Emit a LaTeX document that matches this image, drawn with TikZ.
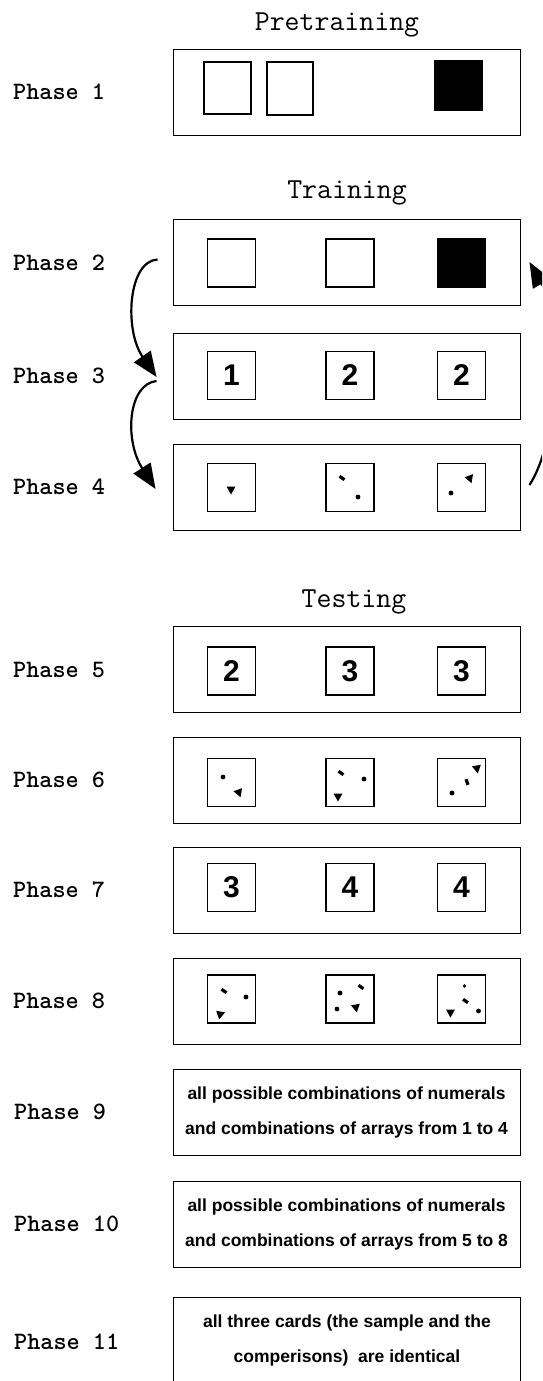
\documentclass[tikz,border=0pt]{standalone}
\usepackage{fontspec}
\newfontfamily\sansf{Liberation Sans}
\usetikzlibrary{arrows.meta,calc}
\tikzset{
 panel/.style={draw, line width=0.9pt, minimum width=347pt, minimum height=86pt, inner sep=0pt},
 card/.style={draw, line width=1.1pt, minimum width=48pt, minimum height=48pt, inner sep=0pt, font=\sansf\bfseries\fontsize{30}{30}\selectfont},
 blackcard/.style={card, fill=black},
 phaselabel/.style={anchor=west, inner sep=0pt, font=\ttfamily\bfseries\fontsize{25}{25}\selectfont},
 title/.style={inner sep=0pt, font=\ttfamily\fontsize{29}{29}\selectfont},
 flow/.style={line width=2.2pt, -{Triangle[length=25pt,width=20pt]}},
 desc/.style={panel, align=center, font=\sansf\bfseries\fontsize{17.5}{35}\selectfont},
 desctext/.style={align=center, inner sep=0pt, font=\sansf\bfseries\fontsize{17.5}{35}\selectfont},
}
\newcommand\mdot[2]{\fill (#1,#2) circle[radius=2.4pt];}
\newcommand\mtri[3]{\fill[shift={(#1,#2)}, rotate=#3] (-4.5,-3.5) -- (4.5,-3.5) -- (0,4.5) -- cycle;}
\newcommand\mdash[3]{\draw[line width=3.2pt, shift={(#1,#2)}, rotate=#3] (-3,0) -- (3,0);}
\begin{document}
\begin{tikzpicture}[x=1pt,y=-1pt]
\useasboundingbox (0,0) rectangle (542,1381);
\clip (0,0) rectangle (542,1381);
% titles
\node[title] (tpre) at (337,25) {Pretraining};
\node[title] (ttra) at (347,193) {Training};
\node[title] (ttes) at (354,602) {Testing};
% phase labels
\node[phaselabel] (l1) at (13,92) {Phase 1};
\node[phaselabel] (l2) at (13,263) {Phase 2};
\node[phaselabel] (l3) at (13,376) {Phase 3};
\node[phaselabel] (l4) at (13,487) {Phase 4};
\node[phaselabel] (l5) at (13,670) {Phase 5};
\node[phaselabel] (l6) at (13,780) {Phase 6};
\node[phaselabel] (l7) at (13,890) {Phase 7};
\node[phaselabel] (l8) at (13,1001) {Phase 8};
\node[phaselabel] (l9) at (14,1112) {Phase 9};
\node[phaselabel] (l10) at (14,1224) {Phase 10};
\node[phaselabel] (l11) at (14,1342) {Phase 11};
% panels
\node[panel] (p1) at (346.5,92) {};
\node[panel] (p2) at (346.5,262.5) {};
\node[panel] (p3) at (346.5,376) {};
\node[panel] (p4) at (346.5,487) {};
\node[panel] (p5) at (346.5,669.5) {};
\node[panel] (p6) at (346.5,780) {};
\node[panel] (p7) at (346.5,890.5) {};
\node[panel] (p8) at (346.5,1001) {};
% phase 1
\node[card, minimum width=47pt, minimum height=52pt] (c11) at (227.5,88) {};
\node[card, minimum width=46pt, minimum height=53pt] (c12) at (290,88.5) {};
\node[blackcard, minimum height=49pt] (c13) at (458.5,85.5) {};
% phase 2
\node[card] (c21) at (231.5,263) {};
\node[card] (c22) at (350,263) {};
\node[blackcard] (c23) at (461.5,263) {};
% phase 3
\node[card] (c31) at (231.5,375.5) {1};
\node[card] (c32) at (350,375.5) {2};
\node[card] (c33) at (461.5,375.5) {2};
% phase 4
\node[card] (c41) at (231.5,487.5) {};
\node[card] (c42) at (350,487.5) {};
\node[card] (c43) at (461.5,487.5) {};
\mtri{231}{490}{0}
\mdash{342}{478}{-35}
\mdot{358}{497}
\mdot{451}{493}
\mtri{470}{479}{20}
% phase 5
\node[card] (c51) at (231.5,671) {2};
\node[card] (c52) at (350,671) {3};
\node[card] (c53) at (461.5,671) {3};
% phase 6
\node[card] (c61) at (231.5,782.5) {};
\node[card] (c62) at (350,782.5) {};
\node[card] (c63) at (461.5,782.5) {};
\mdot{223}{777}
\mtri{239}{793}{20}
\mdash{341}{773}{-35}
\mdot{364}{779}
\mtri{338}{797}{0}
\mtri{477}{769}{10}
\mdash{467}{782}{-70}
\mdot{452}{793}
% phase 7
\node[card] (c71) at (231.5,887.5) {3};
\node[card] (c72) at (350,887.5) {4};
\node[card] (c73) at (461.5,887.5) {4};
% phase 8
\node[card] (c81) at (231.5,999) {};
\node[card] (c82) at (350,999) {};
\node[card] (c83) at (461.5,999) {};
\mdash{224}{991}{-35}
\mdot{246}{997}
\mtri{220}{1015}{-10}
\mdot{340}{993}
\mdash{361}{987}{-35}
\mdot{337}{1009}
\mtri{356}{1008}{10}
\fill (464.5,986) circle[radius=1.9pt];
\mdash{465.5}{1001}{-35}
\mdot{478.5}{1011}
\mtri{450.5}{1013}{0}
% phases 9-11
\node[desc] (p9) at (346.5,1112.5) {all possible combinations of numerals\\and combinations of arrays from 1 to 4};
\node[desc] (p10) at (346.5,1224.5) {all possible combinations of numerals\\and combinations of arrays from 5 to 8};
\draw[line width=0.9pt] (173,1395) |- (520,1297) -- (520,1395);
\node[desctext] (t11) at (347,1340) {all three cards (the sample and the\\comperisons)~ are identical};
% arrows
\coordinate (a1s) at ($(p2.west)+(-15,-3)$);
\coordinate (a1e) at ($(p3.west)+(-16,1)$);
\coordinate (a2s) at ($(p3.west)+(-16,5)$);
\coordinate (a2e) at ($(p4.west)+(-17,2)$);
\coordinate (a3s) at ($(p4.east)+(9,-2)$);
\coordinate (a3e) at ($(p2.east)+(9,-0.5)$);
\draw[flow] (a1s) .. controls (128,261) and (124,330) .. (a1e);
\draw[flow] (a2s) .. controls (128,384) and (124,440) .. (a2e);
\draw[flow] (a3s) .. controls (556,445) and (568,330) .. (a3e);
\end{tikzpicture}
\end{document}
